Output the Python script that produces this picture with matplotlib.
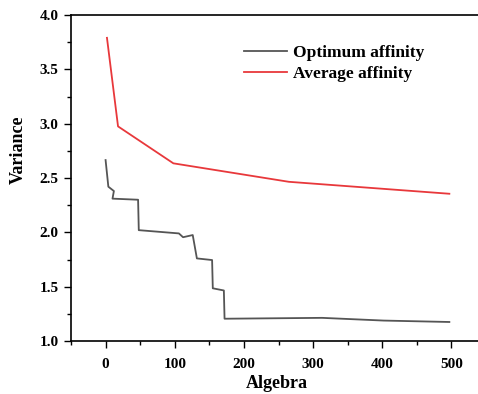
import matplotlib.pyplot as plt
from matplotlib.ticker import MultipleLocator

# data
opt_x = [0, 4, 12, 10, 47, 48, 106, 112, 126, 132, 154, 155, 171, 172, 313, 402, 497]
opt_y = [2.665, 2.42, 2.38, 2.31, 2.30, 2.02, 1.99, 1.955, 1.975, 1.76, 1.745, 1.485, 1.465, 1.205, 1.213, 1.188, 1.175]

avg_x = [2, 18, 98, 265, 497]
avg_y = [3.79, 2.975, 2.635, 2.465, 2.355]

plt.rcParams['font.family'] = ['Liberation Serif', 'DejaVu Serif']
plt.rcParams['font.weight'] = 'bold'

fig = plt.figure(figsize=(4.78, 3.94), dpi=100)
ax = fig.add_axes([71 / 478, 53 / 394, 415 / 478, 326 / 394])

ax.plot(opt_x, opt_y, color="#555555", lw=1.3, label="Optimum affinity")
ax.plot(avg_x, avg_y, color="#e8383b", lw=1.3, label="Average affinity")

ax.set_xlim(-50, 550)
ax.set_ylim(1.0, 4.0)
ax.xaxis.set_major_locator(MultipleLocator(100))
ax.xaxis.set_minor_locator(MultipleLocator(50))
ax.yaxis.set_major_locator(MultipleLocator(0.5))
ax.yaxis.set_minor_locator(MultipleLocator(0.25))
ax.yaxis.set_major_formatter(plt.FormatStrFormatter('%.1f'))

ax.tick_params(which='major', direction='out', length=5, width=1, labelsize=11)
ax.tick_params(axis='x', which='major', pad=7)
ax.tick_params(axis='y', which='major', pad=4)
ax.tick_params(which='minor', direction='out', length=3, width=1)
for s in ax.spines.values():
    s.set_linewidth(1.2)
ax.spines['right'].set_visible(False)

ax.set_xlabel("Algebra", fontsize=13, fontweight='bold')
ax.set_ylabel("Variance", fontsize=13, fontweight='bold')
ax.xaxis.set_label_coords(0.497, -0.105)
ax.yaxis.set_label_coords(-0.106, 0.586)

ax.legend(loc='upper left', bbox_to_anchor=(0.40, 0.93), frameon=False,
          fontsize=12.5, handlelength=2.5, handletextpad=0.3, labelspacing=0.3,
          borderaxespad=0)

fig.savefig("out.png", dpi=100)
